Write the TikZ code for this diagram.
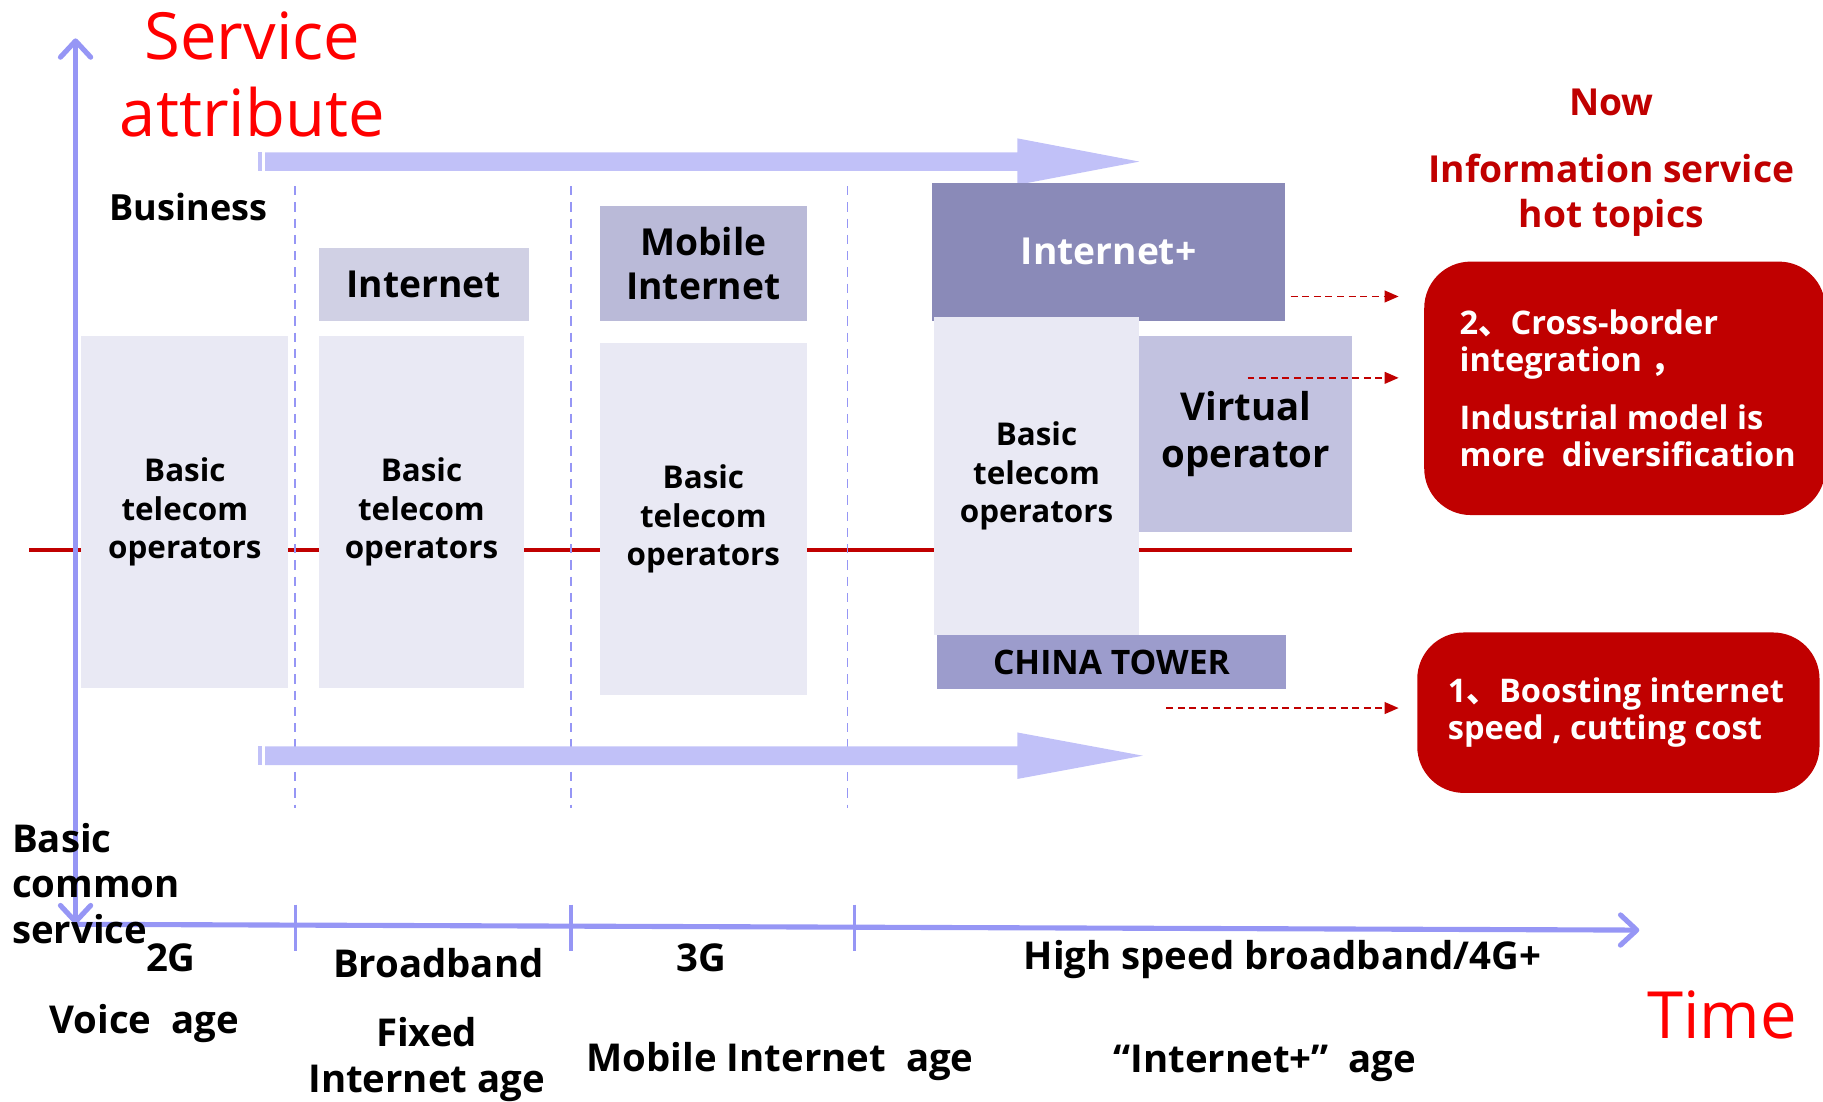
\documentclass[tikz,border=0pt]{standalone}
\usepackage{fontspec}
\setmainfont{Open Sans}
\newfontfamily\cjk{Noto Sans CJK SC}
\usetikzlibrary{shapes,positioning,calc,arrows.meta}
\definecolor{axisblue}{RGB}{150,150,245}
\definecolor{fatblue}{RGB}{193,193,248}
\definecolor{basicfill}{RGB}{233,233,244}
\definecolor{netfill}{RGB}{208,208,228}
\definecolor{mobfill}{RGB}{186,186,216}
\definecolor{plusfill}{RGB}{138,138,184}
\definecolor{virtfill}{RGB}{194,194,224}
\definecolor{towerfill}{RGB}{156,156,204}
\definecolor{hotred}{RGB}{192,0,0}
\definecolor{titlered}{RGB}{255,0,0}
\newcommand{\fsz}[2]{\fontsize{#1}{#2}\selectfont}

\begin{document}
\begin{tikzpicture}[x=0.5pt,y=-0.5pt,
      box/.style={inner sep=0pt,align=center,font=\bfseries\fsz{13.5}{16.5}},
      basic/.style={box,fill=basicfill,minimum width=89pt,minimum height=151.5pt},
      era/.style={box,font=\bfseries\fsz{16}{19}},
      hot/.style={fill=hotred,rounded corners=20pt,inner sep=0pt},
      hottext/.style={anchor=west,inner sep=0pt,text=white,align=left,font=\bfseries\fsz{14}{16}},
      trend/.style={draw=hotred,dash pattern=on 3pt off 2pt,line width=0.8pt,-{Triangle[length=6pt,width=5pt]}},
      eraline/.style={draw=axisblue,dash pattern=on 4pt off 3pt,line width=0.7pt},
      axis/.style={draw=axisblue,line width=2.2pt},
      axistext/.style={inner sep=0pt,align=center,font=\bfseries\fsz{16.5}{19.75}},
      reddish/.style={inner sep=0pt,align=center,text=titlered,font=\fsz{28}{33.5}}
      ]
      \useasboundingbox (0,0) rectangle (1568,947);

      \draw[hotred,line width=1.5pt] (25,473) -- (1163,473);
      \foreach \x in {254,491,729}{
        \draw[eraline] (\x,160) -- (\x,695);
      }
      \foreach \y/\tip in {139/980,650/983}{
        \fill[fatblue] (222,\y-8) rectangle (225,\y+8);
        \fill[fatblue] (228,\y-8) -- (875,\y-8) -- (875,\y-20) -- (\tip,\y)
          -- (875,\y+20) -- (875,\y+8) -- (228,\y+8) -- cycle;
      }

      \node[reddish] (attr) at (217,64) {Service\\attribute};
      \node[box,font=\bfseries\fsz{15.5}{18}] (biz) at (162,178) {Business};

      \node[basic] (op1) at (159,440.5) {Basic\\telecom\\operators};
      \node[era,fill=netfill,minimum width=90.5pt,minimum height=31.5pt] (net) at (364.5,244.5) {Internet};
      \node[basic,minimum width=88.5pt] (op2) at (362.5,440.5) {Basic\\telecom\\operators};
      \node[era,fill=mobfill,minimum width=89pt,minimum height=49.5pt] (mob) at (605,226.5) {Mobile\\Internet};
      \node[basic] (op3) at (605,446.5) {Basic\\telecom\\operators};
      \node[era,fill=plusfill,text=white,minimum width=151.5pt,minimum height=59.5pt] (plus) at (953.5,216.5) {Internet+};
      \node[basic,minimum width=88.5pt,minimum height=136.5pt] (op4) at (891.5,409.5) {Basic\\telecom\\operators};
      \node[box,fill=virtfill,minimum width=91.5pt,minimum height=84.5pt,font=\bfseries\fsz{16.5}{20}] (virt) at (1071.5,373.5) {Virtual\\operator};
      \node[box,fill=towerfill,minimum width=150pt,minimum height=23.5pt,font=\bfseries\fsz{14.5}{17}] (tower) at (956,569.5) {CHINA TOWER};

      \node[box,text=hotred,font=\bfseries\fsz{16}{19.5}] (now) at (1386,88) {Now};
      \node[box,text=hotred,font=\bfseries\fsz{16}{19.5}] (topics) at (1386,168) {Information service\\hot topics};
      \node[hot,minimum width=172.5pt,minimum height=109pt] (hot2) at (1397.5,334) {};
      \node[hottext] (hot2txt) at (1255,334) {2{\cjk 、}Cross-border\\integration {\cjk ，}\\[9pt]Industrial model is\\more~~diversification};
      \node[hot,minimum width=173pt,minimum height=69pt] (hot1) at (1392,613) {};
      \node[hottext] (hot1txt) at (1245,613) {1{\cjk 、}Boosting internet\\speed , cutting cost};

      \coordinate (t1) at (1110,255);
      \coordinate (h1) at (1203,255);
      \coordinate (t2) at (1073,325);
      \coordinate (h2) at (1203,325);
      \coordinate (t3) at (1003,609);
      \coordinate (h3) at (1203,609);
      \draw[trend] (t1) -- (h1);
      \draw[trend] (t2) -- (h2);
      \draw[trend] (t3) -- (h3);

      \coordinate (o) at (65,795);
      \coordinate (ytop) at (65,33);
      \coordinate (xend) at (1410,800);
      \draw[axis,{Straight Barb[length=7pt,width=13pt,round]}-{Straight Barb[length=7pt,width=13pt,round]}] (o) -- (ytop);
      \draw[axis,-{Straight Barb[length=7pt,width=13pt,round]}] (o) -- (xend);
      \foreach \x in {254,491,735}{
        \draw[axis,line width=1.5pt] (\x,778) -- (\x,818);
      }

      \node[axistext,anchor=west,align=left] (common) at (10,760) {Basic\\common\\service};
      \node[axistext] (g2) at (147,824) {2G};
      \node[axistext] (voice) at (124,880) {Voice~~age};
      \node[axistext] (bband) at (377,828) {Broadband};
      \node[axistext] (fixed) at (367,911) {Fixed\\Internet age};
      \node[axistext] (g3) at (603,824) {3G};
      \node[axistext] (mobage) at (671,913) {Mobile Internet~~age};
      \node[axistext] (g4) at (1103,825) {High speed broadband/4G+};
      \node[axistext] (plusage) at (1088,915) {“Internet+”~~age};
      \node[reddish] (time) at (1481,873) {Time};
    \end{tikzpicture}
\end{document}
